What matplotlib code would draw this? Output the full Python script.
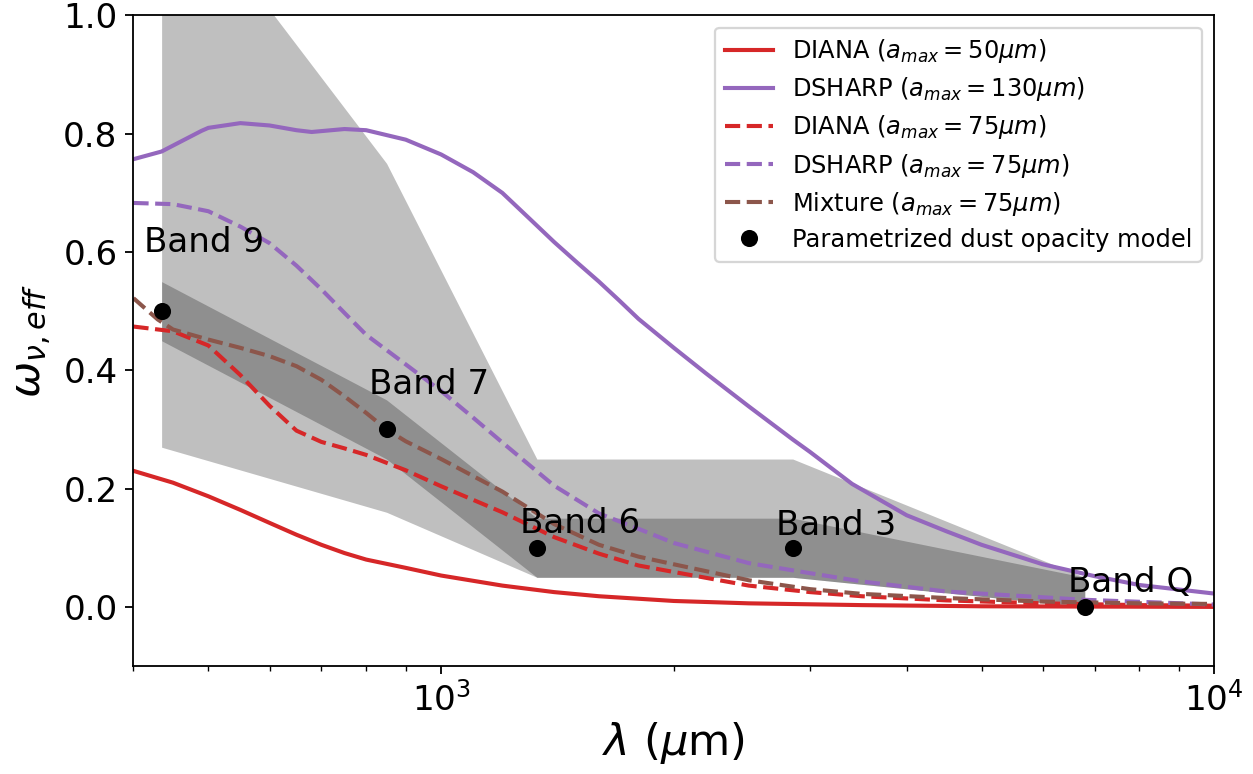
import numpy as np
import matplotlib
matplotlib.use('Agg')
import matplotlib.pyplot as plt

# wavelengths in micron, effective albedo read per model
lam_diana50 = [400, 450, 500, 550, 600, 650, 700, 750, 800, 900, 1000, 1200, 1400,
               1600, 2000, 2500, 3500, 5000, 10000]
w_diana50 = [0.230, 0.210, 0.187, 0.164, 0.142, 0.122, 0.105, 0.091, 0.080, 0.066,
             0.053, 0.036, 0.025, 0.018, 0.010, 0.006, 0.003, 0.001, 0.000]

lam_dsharp130 = [400, 435, 450, 490, 500, 550, 600, 650, 680, 750, 800, 900, 1000,
                 1100, 1200, 1300, 1400, 1500, 1600, 1700, 1800, 2000, 2200, 2500,
                 2850, 3000, 3400, 4000, 4500, 5000, 6000, 7000, 8000, 10000]
w_dsharp130 = [0.757, 0.770, 0.780, 0.805, 0.810, 0.818, 0.814, 0.806, 0.803, 0.808,
               0.806, 0.790, 0.765, 0.735, 0.700, 0.657, 0.617, 0.582, 0.550, 0.518,
               0.487, 0.438, 0.395, 0.339, 0.283, 0.262, 0.208, 0.155, 0.128, 0.105,
               0.072, 0.052, 0.037, 0.0225]

lam_diana75 = [400, 450, 500, 550, 600, 650, 700, 750, 800, 900, 1000, 1200, 1400,
               1600, 1800, 2000, 2500, 3000, 3500, 4500, 6000, 8000, 10000]
w_diana75 = [0.474, 0.466, 0.442, 0.392, 0.340, 0.298, 0.279, 0.268, 0.257, 0.231,
             0.204, 0.160, 0.118, 0.090, 0.070, 0.059, 0.036, 0.025, 0.018, 0.011,
             0.006, 0.003, 0.002]

lam_dsharp75 = [400, 450, 500, 550, 600, 650, 700, 750, 800, 900, 1000, 1100, 1200,
                1300, 1400, 1600, 1800, 2000, 2500, 3000, 3500, 4500, 6800, 10000]
w_dsharp75 = [0.683, 0.681, 0.669, 0.643, 0.615, 0.577, 0.537, 0.497, 0.460, 0.410,
              0.365, 0.320, 0.278, 0.240, 0.205, 0.158, 0.132, 0.108, 0.074, 0.057,
              0.043, 0.026, 0.012, 0.004]

lam_mix75 = [400, 430, 450, 500, 550, 600, 650, 700, 750, 800, 850, 900, 1000, 1200,
             1400, 1600, 1800, 2000, 2500, 3000, 3500, 4500, 6000, 8000, 10000]
w_mix75 = [0.522, 0.486, 0.469, 0.452, 0.438, 0.424, 0.407, 0.384, 0.356, 0.328,
           0.300, 0.280, 0.250, 0.195, 0.140, 0.105, 0.085, 0.072, 0.045, 0.030,
           0.022, 0.015, 0.009, 0.006, 0.005]

# parametrized opacity model at the observed bands
band_names = ['Band 9', 'Band 7', 'Band 6', 'Band 3', 'Band Q']
band_lam = [435, 850, 1330, 2850, 6800]
band_w = [0.50, 0.30, 0.10, 0.10, 0.00]
inner_lo = [0.45, 0.25, 0.05, 0.05, 0.00]
inner_hi = [0.55, 0.35, 0.15, 0.15, 0.05]
outer_lo = [0.27, 0.16, 0.05, 0.05, 0.00]
outer_hi = [1.25, 0.75, 0.25, 0.25, 0.05]
label_dy = [0.10, 0.06, 0.025, 0.022, 0.025]

dpi = 164
fig = plt.figure(figsize=(1253 / dpi, 774 / dpi), dpi=dpi)
ax = fig.add_axes([0.1065, 0.1395, 0.8626, 0.8405])

ax.fill_between(band_lam, outer_lo, outer_hi, color='k', alpha=0.25, lw=0)
ax.fill_between(band_lam, inner_lo, inner_hi, color='k', alpha=0.25, lw=0)

lw = 1.8
ax.plot(lam_diana50, w_diana50, color='tab:red', lw=lw,
        label=r'DIANA ($a_{max}=50\mu m$)')
ax.plot(lam_dsharp130, w_dsharp130, color='tab:purple', lw=lw,
        label=r'DSHARP ($a_{max}=130\mu m$)')
ax.plot(lam_diana75, w_diana75, '--', color='tab:red', lw=lw,
        label=r'DIANA ($a_{max}=75\mu m$)')
ax.plot(lam_dsharp75, w_dsharp75, '--', color='tab:purple', lw=lw,
        label=r'DSHARP ($a_{max}=75\mu m$)')
ax.plot(lam_mix75, w_mix75, '--', color='tab:brown', lw=lw,
        label=r'Mixture ($a_{max}=75\mu m$)')
ax.plot(band_lam, band_w, 'o', color='k', ms=6.5, zorder=5,
        label='Parametrized dust opacity model')

for name, lam, w, dy in zip(band_names, band_lam, band_w, label_dy):
    ax.text(lam * 0.95, w + dy, name, fontsize=15, ha='left', va='baseline')

ax.set_xscale('log')
ax.set_xlim(400, 1e4)
ax.set_ylim(-0.1, 1.0)
ax.set_yticks(np.arange(0, 1.01, 0.2))
ax.tick_params(labelsize=15)
ax.set_xlabel(r'$\lambda$ ($\mu$m)', fontsize=19, labelpad=1)
ax.set_ylabel(r'$\omega_{\nu,eff}$', fontsize=19)
ax.legend(loc='upper right', fontsize=10.6, labelspacing=0.42)

fig.savefig('out.png', dpi=dpi)
